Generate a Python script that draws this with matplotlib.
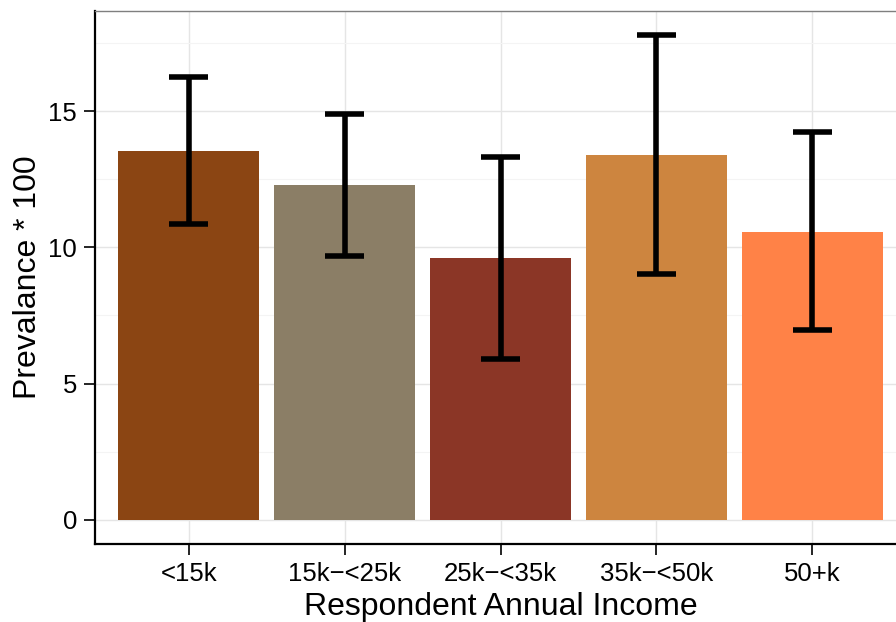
import numpy as np
import matplotlib
matplotlib.use("Agg")
import matplotlib.pyplot as plt

# prevalence by income group, with lower/upper CI
income = ["<15k", "15k\u2212<25k", "25k\u2212<35k", "35k\u2212<50k", "50+k"]
prevalence = [13.53, 12.28, 9.61, 13.38, 10.56]
lower = [10.85, 9.68, 5.90, 9.02, 6.97]
upper = [16.24, 14.89, 13.31, 17.78, 14.23]
colors = ["#8B4513", "#8B7E66", "#8B3626", "#CD853F", "#FF8247"]

plt.rcParams["font.family"] = ["Liberation Sans", "DejaVu Sans"]

fig = plt.figure(figsize=(8.96, 6.22), dpi=100)
ax = fig.add_axes([95 / 896, 78 / 622, 811 / 896, 533 / 622])

x = np.arange(len(income))
ax.bar(x, prevalence, width=0.9, color=colors, zorder=2)
ax.vlines(x, lower, upper, color="black", linewidth=4, zorder=3)
ax.hlines(lower, x - 0.125, x + 0.125, color="black", linewidth=4, zorder=3)
ax.hlines(upper, x - 0.125, x + 0.125, color="black", linewidth=4, zorder=3)

ax.set_xlim(-0.6, len(income) - 0.4)
ax.set_ylim(-0.89, 18.67)
ax.set_xticks(x)
ax.set_xticklabels(income)
ax.set_yticks([0, 5, 10, 15])
ax.set_yticks([2.5, 7.5, 12.5, 17.5], minor=True)

# grid lines in the ggplot way
ax.grid(which="major", color="#E5E5E5", linewidth=1.0, zorder=0)
ax.grid(which="minor", axis="y", color="#F4F4F4", linewidth=0.8, zorder=0)
ax.set_axisbelow(True)

ax.spines["right"].set_visible(False)
ax.spines["top"].set_color("#7F7F7F")
ax.spines["top"].set_linewidth(1.0)
ax.spines["left"].set_linewidth(1.6)
ax.spines["bottom"].set_linewidth(1.6)
ax.tick_params(which="major", length=8, width=1.2, color="black",
               labelsize=18.5, pad=5)
ax.tick_params(which="minor", length=0)

ax.set_xlabel("Respondent Annual Income", fontsize=23, labelpad=4)
ax.set_ylabel("Prevalance * 100", fontsize=23, labelpad=4)

fig.savefig("out.png", dpi=100)
